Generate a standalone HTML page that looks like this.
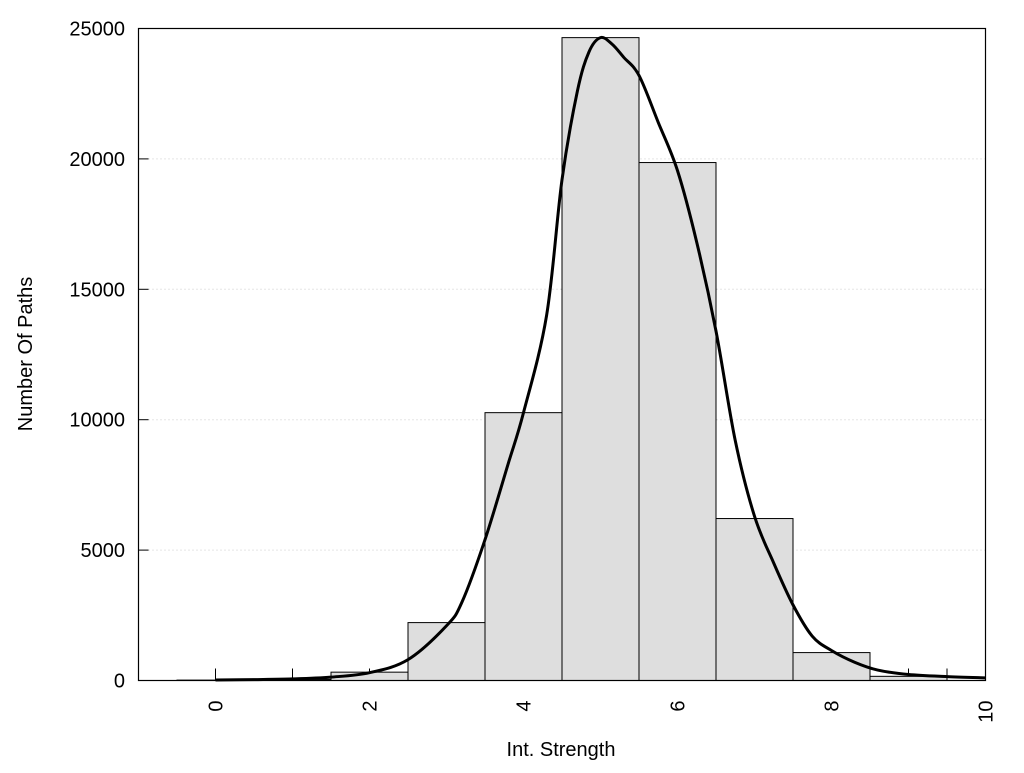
<!DOCTYPE html>
<html><head><meta charset="utf-8"><style>
body{margin:0;background:#fff;}
svg text{font-family:"Liberation Sans",sans-serif;font-size:20px;fill:#000;}
</style></head><body>
<svg width="1024" height="768" id="chart">
<g id="grid"></g><g id="ticks"></g><g id="bars"></g><g id="curve"></g><g id="labels"></g>
<rect x="138.5" y="28.5" width="847" height="652" fill="none" stroke="#000" stroke-width="1.2"/>
<text x="561" y="756" text-anchor="middle">Int. Strength</text>
<text transform="translate(32,354) rotate(-90)" text-anchor="middle">Number Of Paths</text>
</svg>
<script>
const binCenters=[0,1,2,3,4,5,6,7,8,9];
const binCounts=[15,40,320,2220,10270,24650,19860,6210,1070,160];
const curveX=[0,0.5,1,1.5,2,2.5,3,3.2,3.5,3.8,4,4.3,4.5,4.7,4.85,5,5.15,5.3,5.5,5.75,6,6.25,6.5,6.75,7,7.25,7.5,7.75,8,8.3,8.6,9,9.5,10];
const curveY=[20,35,60,130,300,800,2100,3000,5400,8300,10270,14000,19200,22600,24100,24650,24400,23900,23200,21400,19550,16800,13400,9200,6300,4500,2900,1700,1150,700,400,230,150,100];
const yTicks=[0,5000,10000,15000,20000,25000];
const xTickLabels=[0,2,4,6,8,10];
const xMinorTicks=[0,1,2,3,4,5,6,7,8,9,9.5];
const NS="http://www.w3.org/2000/svg";
const L=138.5,R=985.5,T=28.5,B=680.5;
const xs=v=>L+(v+1)/11*(R-L);
const ys=v=>B-v/25000*(B-T);
function mk(tag,attrs,parent){const e=document.createElementNS(NS,tag);for(const k in attrs)e.setAttribute(k,attrs[k]);document.getElementById(parent).appendChild(e);return e;}
yTicks.forEach(v=>{
 if(v>0&&v<25000){const g=mk('line',{x1:L+10,x2:R,y1:ys(v),y2:ys(v),stroke:'#ccc','stroke-dasharray':'1 3'},'grid');
 
 }
 const t=mk('line',{x1:L,x2:L+10,y1:ys(v),y2:ys(v),stroke:'#000'},'ticks');
 
 
 const lb=mk('text',{x:125,y:ys(v)+7,'text-anchor':'end'},'labels');lb.textContent=v;
 
 
});
xMinorTicks.forEach(v=>{
 const t=mk('line',{x1:xs(v),x2:xs(v),y1:B,y2:B-12,stroke:'#000'},'ticks');
 
 
});
xTickLabels.forEach(v=>{
 const lb=mk('text',{transform:`translate(${xs(v)+7},${B+20}) rotate(-90)`,'text-anchor':'end'},'labels');lb.textContent=v;
 
 
});
binCenters.forEach((c,i)=>{
 const x0=xs(c-0.5),x1=xs(c+0.5),y=ys(binCounts[i]);
 const r=mk('rect',{x:x0,y:y,width:x1-x0,height:B-y,fill:'#dedede',stroke:'#000','stroke-width':1},'bars');
 
 
});
const P=curveX.map((x,i)=>[xs(x),ys(curveY[i])]);
let d=`M${P[0][0]},${P[0][1]}`;
for(let i=0;i<P.length-1;i++){
 const p0=P[Math.max(0,i-1)],p1=P[i],p2=P[i+1],p3=P[Math.min(P.length-1,i+2)];
 const c1=[p1[0]+(p2[0]-p0[0])/6,p1[1]+(p2[1]-p0[1])/6],c2=[p2[0]-(p3[0]-p1[0])/6,p2[1]-(p3[1]-p1[1])/6];
 d+=` C${c1[0]},${c1[1]} ${c2[0]},${c2[1]} ${p2[0]},${p2[1]}`;
}
const c=mk('path',{d:d,fill:'none',stroke:'#000','stroke-width':3},'curve');


</script>
</body></html>
